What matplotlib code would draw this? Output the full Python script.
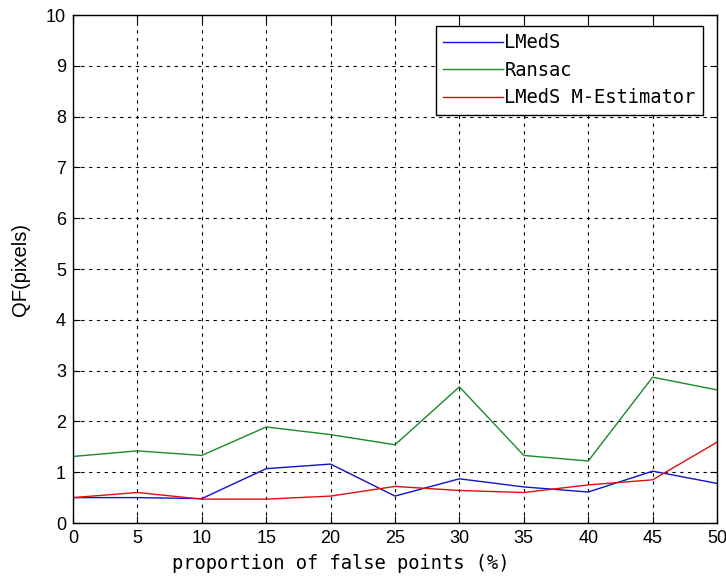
import matplotlib
matplotlib.use("Agg")
import matplotlib.pyplot as plt

# proportion of false points (%)
proportions = [0, 5, 10, 15, 20, 25, 30, 35, 40, 45, 50]

# QF values
lmeds = [0.50, 0.50, 0.48, 1.07, 1.16, 0.53, 0.87, 0.71, 0.61, 1.02, 0.78]
ransac = [1.31, 1.42, 1.33, 1.89, 1.74, 1.54, 2.68, 1.33, 1.22, 2.87, 2.62]
lmeds_m = [0.50, 0.60, 0.47, 0.47, 0.53, 0.72, 0.64, 0.60, 0.75, 0.85, 1.59]

x_ticks = list(range(0, 51, 5))
y_ticks = list(range(0, 11))

fig = plt.figure(figsize=(7.26, 5.78), dpi=100)
ax = fig.add_axes([73 / 726, 55 / 578, 644 / 726, 508 / 578])

ax.plot(proportions, lmeds, color="#1010d0", linewidth=1.0, label="LMedS")
ax.plot(proportions, ransac, color="#1a8a2a", linewidth=1.0, label="Ransac")
ax.plot(proportions, lmeds_m, color="#e01010", linewidth=1.0, label="LMedS M-Estimator")

ax.set_xlim(0, 50)
ax.set_ylim(0, 10)
ax.set_xticks(x_ticks)
ax.set_yticks(y_ticks)

tick_font = {"family": "Liberation Sans", "size": 13}
ax.set_xticklabels([str(v) for v in x_ticks], **tick_font)
ax.set_yticklabels([str(v) for v in y_ticks], **tick_font)
ax.tick_params(direction="in", top=True, right=True, length=5, width=0.8, pad=5)

ax.grid(True, color="black", linestyle=(0, (3, 4)), linewidth=0.8)

for side in ax.spines.values():
    side.set_linewidth(1.0)

ax.set_xlabel("proportion of false points (%)", family="DejaVu Sans Mono", fontsize=13.5)
ax.xaxis.set_label_coords(0.415, -0.062)
ax.set_ylabel("QF(pixels)", family="Liberation Sans", fontsize=14.5)
ax.yaxis.set_label_coords(-0.066, 0.5)

leg = ax.legend(loc="upper right", bbox_to_anchor=(703 / 726, 1 - 26 / 578), bbox_transform=fig.transFigure,
                prop={"family": "DejaVu Sans Mono", "size": 13.5}, frameon=True, fancybox=False,
                handlelength=3.2, handletextpad=0.05, borderpad=0.4, labelspacing=0.45, borderaxespad=0)
leg.get_frame().set_edgecolor("black")
leg.get_frame().set_linewidth(1.0)
leg.get_frame().set_alpha(1.0)

fig.savefig("out.png", dpi=100)
